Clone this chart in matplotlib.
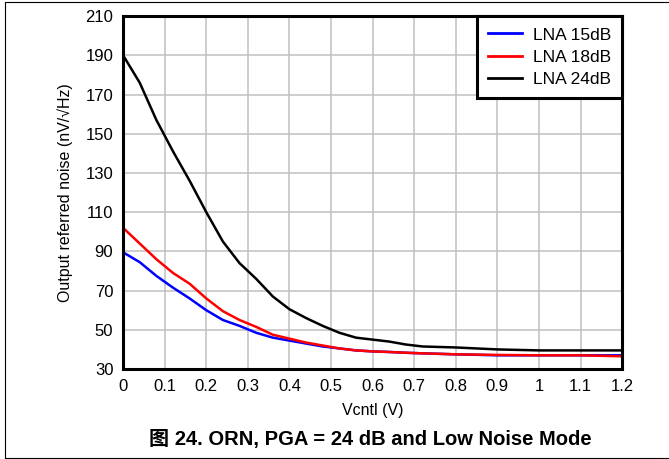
import numpy as np
from matplotlib import pyplot as plt

plt.rcParams['font.family'] = ['Liberation Sans', 'Noto Sans CJK SC', 'DejaVu Sans']

# control voltage (V)
vcntl = [0, 0.04, 0.08, 0.12, 0.16, 0.2, 0.24, 0.28, 0.32, 0.36, 0.4, 0.44,
         0.48, 0.52, 0.56, 0.6, 0.64, 0.68, 0.72, 0.8, 0.9, 1.0, 1.1, 1.2]

# output referred noise (nV/rtHz)
lna15 = [89.5, 84.5, 77.5, 71.5, 66, 60, 55, 52, 48.5, 46, 44.5, 43,
         41.5, 40.5, 39.5, 39, 38.7, 38.3, 38, 37.5, 37, 37, 37, 37]
lna18 = [102, 94, 86, 79, 73.5, 66, 59.5, 55, 51.5, 47.5, 45.5, 43.5,
         42, 40.5, 39.5, 39, 38.7, 38.3, 38, 37.5, 37.2, 37, 37, 36.5]
lna24 = [190, 176, 157, 141, 126, 110, 95, 84, 76, 67, 60.5, 56,
         52, 48.5, 46, 45, 44, 42.5, 41.5, 41, 40, 39.5, 39.5, 39.5]

xticks = [0, 0.1, 0.2, 0.3, 0.4, 0.5, 0.6, 0.7, 0.8, 0.9, 1, 1.1, 1.2]
xticklabels = ['0', '0.1', '0.2', '0.3', '0.4', '0.5', '0.6', '0.7', '0.8', '0.9', '1', '1.1', '1.2']
yticks = [30, 50, 70, 90, 110, 130, 150, 170, 190, 210]

fig = plt.figure(figsize=(6.69, 4.59), dpi=100)
ax = fig.add_axes([0.184, 0.196, 0.746, 0.769])

ax.plot(vcntl, lna15, color='#0000ff', lw=1.8, label='LNA 15dB')
ax.plot(vcntl, lna18, color='#ff0000', lw=1.8, label='LNA 18dB')
ax.plot(vcntl, lna24, color='black', lw=1.8, label='LNA 24dB')

ax.set_xlim(0, 1.2)
ax.set_ylim(30, 210)
ax.set_xticks(xticks)
ax.set_xticklabels(xticklabels)
ax.set_yticks(yticks)
ax.tick_params(length=0, labelsize=12, pad=7)
ax.grid(True, color='#c0c0c0', lw=1.1)
ax.set_axisbelow(True)
for s in ax.spines.values():
    s.set_linewidth(2.2)

ax.set_ylabel('Output referred noise (nV/\u221aHz)', fontsize=11.5, labelpad=9)
ax.set_xlabel('Vcntl (V)', fontsize=11.5, labelpad=7)

leg = ax.legend(loc='upper right', fontsize=12.5, fancybox=False, framealpha=1,
                borderaxespad=0, handlelength=1.95, labelspacing=0.4,
                borderpad=0.65, handletextpad=0.6)
leg.get_frame().set_edgecolor('black')
leg.get_frame().set_linewidth(2.2)
for l in leg.get_lines():
    l.set_linewidth(2)

fig.text(370 / 669, 1 - 440 / 459, '图 24. ORN, PGA = 24 dB and Low Noise Mode',
         ha='center', va='center', fontsize=14.5, fontweight='bold')

# outer frame
fig.patches.append(plt.Rectangle((5 / 669, 0.002), 1.2, 1 - 2 / 459 - 0.002,
                                 transform=fig.transFigure, fill=False,
                                 edgecolor='black', lw=0.8))

plt.savefig('out.png', dpi=100)
